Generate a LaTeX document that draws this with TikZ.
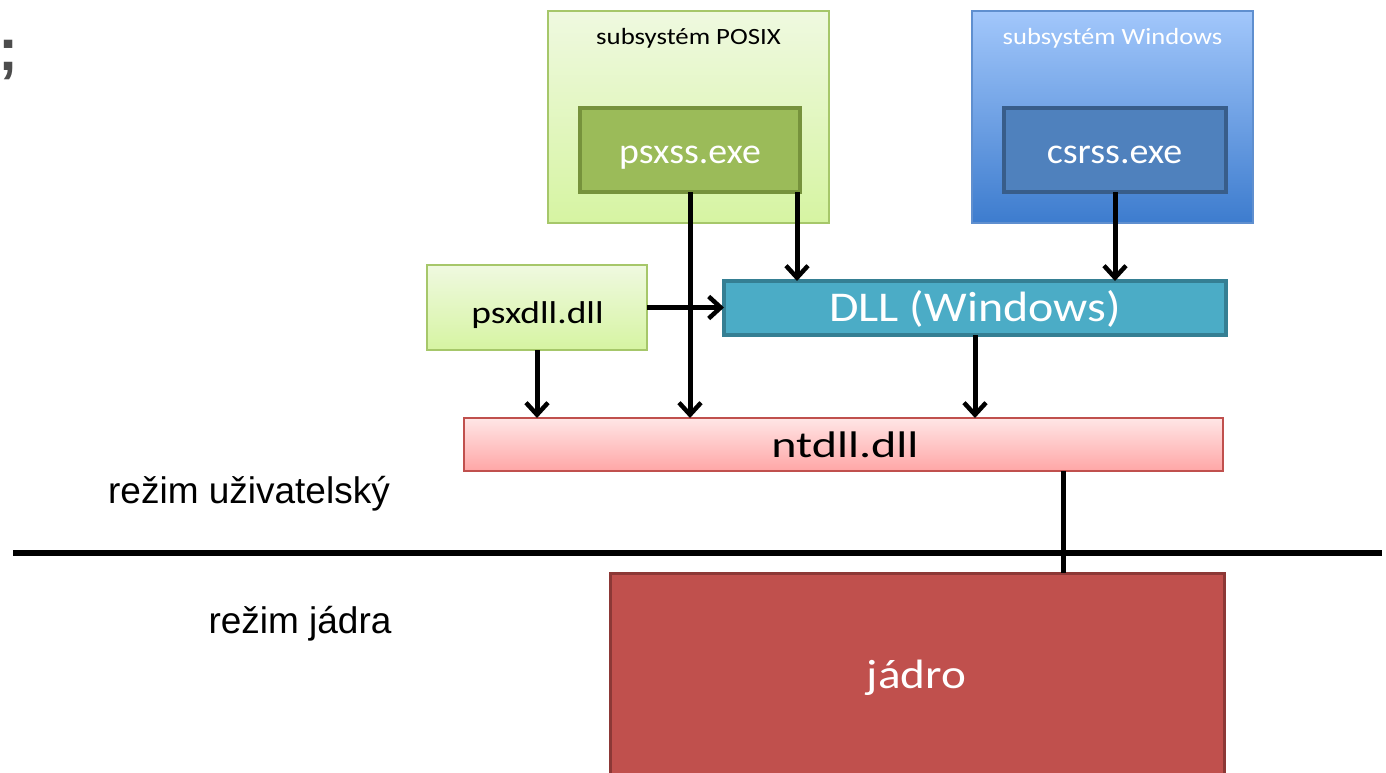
\documentclass[tikz,border=0pt]{standalone}
\usepackage{fontspec}
\usepackage{graphicx}
\setmainfont{Carlito}
\newfontfamily\arialf{Liberation Sans}
\usetikzlibrary{arrows.meta}
\definecolor{posixborder}{HTML}{A6C76A}
\definecolor{posixtop}{HTML}{EFF9E0}
\definecolor{posixbot}{HTML}{D6F4A2}
\definecolor{psxfill}{HTML}{9BBB59}
\definecolor{psxborder}{HTML}{76923C}
\definecolor{wintop}{HTML}{A2C7FB}
\definecolor{winbot}{HTML}{3D7CCE}
\definecolor{winborder}{HTML}{5F8FCF}
\definecolor{csrfill}{HTML}{4F81BD}
\definecolor{csrborder}{HTML}{385D8A}
\definecolor{dllfill}{HTML}{4BACC6}
\definecolor{dllborder}{HTML}{357F93}
\definecolor{nttop}{HTML}{FFE6E6}
\definecolor{ntbot}{HTML}{FFA6A6}
\definecolor{ntborder}{HTML}{C0504D}
\definecolor{kfill}{HTML}{C0504D}
\definecolor{kborder}{HTML}{8C3836}
\newcommand{\fs}[1]{\fontsize{#1}{#1}\selectfont}
\newcommand{\sx}[2]{\scalebox{#1}[1]{#2}}
\tikzset{
  x=1pt,y=-1pt,
  box/.style={rectangle,inner sep=0pt,outer sep=0pt},
  lbl/.style={inner sep=0pt,anchor=base},
  arr/.style={line width=5pt,-{Straight Barb[length=12pt,width=22pt,line width=4.5pt]}},
  conn/.style={line width=5pt},
}
\begin{document}
\begin{tikzpicture}
\useasboundingbox (0,0) rectangle (1386,773);
% stray semicolon at left edge
\node[inner sep=0pt,anchor=base west,text=black!70] (semi) at (-2,71) {\arialf\fs{60}\bfseries ;};
% POSIX subsystem
\node[box,draw=posixborder,line width=2pt,top color=posixtop,bottom color=posixbot,
  minimum width=281pt,minimum height=212pt] (posix) at (688.5,117) {};
\node[lbl] (posixlbl) at (688.5,45) {\fs{23.3}\sx{1.15}{subsystém POSIX}};
\node[box,draw=psxborder,line width=4.5pt,fill=psxfill,
  minimum width=220pt,minimum height=84pt] (psxss) at (690,150) {};
\node[lbl,text=white] (psxsslbl) at (690,163) {\fs{36}\sx{1.05}{psxss.exe}};
% Windows subsystem
\node[box,draw=winborder,line width=2pt,top color=wintop,bottom color=winbot,
  minimum width=281pt,minimum height=212pt] (win) at (1112.5,117) {};
\node[lbl,text=white] (winlbl) at (1112.5,45) {\fs{23.3}\sx{1.14}{subsystém Windows}};
\node[box,draw=csrborder,line width=4.5pt,fill=csrfill,
  minimum width=222pt,minimum height=84pt] (csrss) at (1115,150) {};
\node[lbl,text=white] (csrsslbl) at (1114.5,163) {\fs{36}\sx{1.055}{csrss.exe}};
% psxdll
\node[box,draw=posixborder,line width=2pt,top color=posixtop,bottom color=posixbot,
  minimum width=220pt,minimum height=85pt] (psxdll) at (537,307.5) {};
\node[lbl] (psxdlllbl) at (537.5,323) {\fs{31.5}\sx{1.19}{psxdll.dll}};
% DLL (Windows)
\node[box,draw=dllborder,line width=4pt,fill=dllfill,
  minimum width=502pt,minimum height=54pt] (dll) at (975,308) {};
\node[lbl,text=white] (dlllbl) at (975,321) {\fs{42.4}\sx{1.13}{DLL (Windows)}};
% ntdll
\node[box,draw=ntborder,line width=2pt,top color=nttop,bottom color=ntbot,
  minimum width=759pt,minimum height=53pt] (ntdll) at (843.5,444.5) {};
\node[lbl] (ntdlllbl) at (845,457) {\fs{37}\sx{1.3}{ntdll.dll}};
% mode labels
\node[lbl] (user) at (249,503) {\arialf\fs{37}režim uživatelský};
\node[lbl] (kmode) at (300,633) {\arialf\fs{37}režim jádra};
% divider
\coordinate (divL) at (13,553);
\coordinate (divR) at (1382,553);
\draw[line width=6pt] (divL) -- (divR);
% kernel
\node[box,draw=kborder,line width=3pt,fill=kfill,
  minimum width=614pt,minimum height=230pt] (kernel) at (917,688) {};
\node[lbl,text=white] (klbl) at (916.5,688) {\fs{41}\sx{1.15}{jádro}};
% connectors
\draw[arr] (psxss.south) -- (psxss.south |- ntdll.north);
\draw[arr] ([xshift=-3pt]psxss.south east) -- ([xshift=-3pt]psxss.south east |- dll.north);
\draw[arr] (csrss.south) -- (csrss.south |- dll.north);
\draw[arr] (psxdll.east) -- (psxdll.east -| dll.west);
\draw[arr] (psxdll.south) -- (psxdll.south |- ntdll.north);
\draw[arr] (dll.south) -- (dll.south |- ntdll.north);
\draw[conn] ([xshift=219.5pt]ntdll.south) -- ([xshift=219.5pt]ntdll.south |- kernel.north);
\end{tikzpicture}
\end{document}
